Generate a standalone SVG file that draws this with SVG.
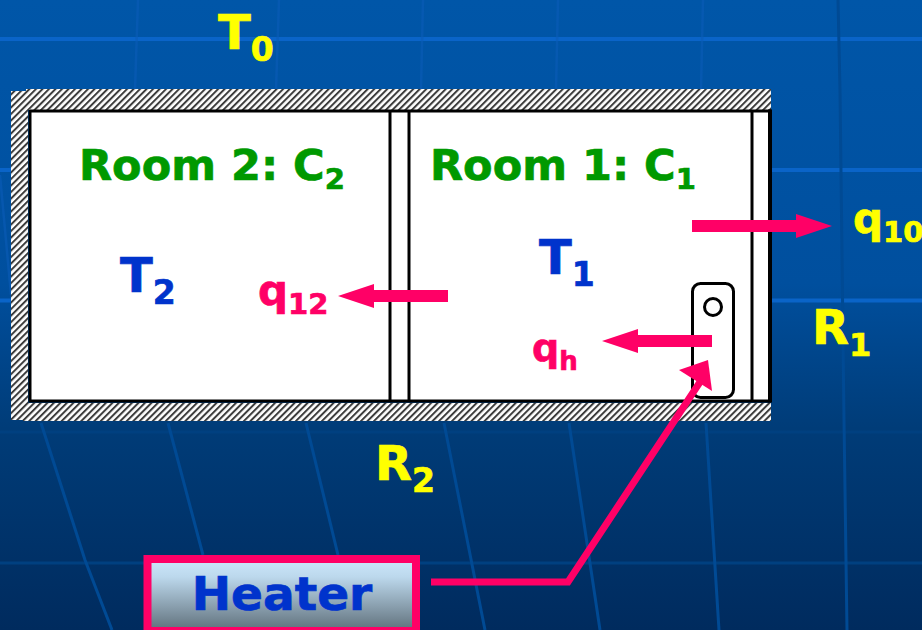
<svg xmlns="http://www.w3.org/2000/svg" width="922" height="630" viewBox="0 0 922 630">
<defs>
<linearGradient id="bg" x1="0" y1="0" x2="0" y2="1"><stop offset="0" stop-color="#0056a8"/><stop offset="0.45" stop-color="#004f9e"/><stop offset="0.68" stop-color="#003c78"/><stop offset="1" stop-color="#002b5e"/></linearGradient>
<linearGradient id="btn" x1="0" y1="0" x2="0" y2="1"><stop offset="0" stop-color="#cde8fc"/><stop offset="0.25" stop-color="#bcd8ec"/><stop offset="1" stop-color="#5f6f7a"/></linearGradient>
<pattern id="hatch" width="4.6" height="4.6" patternUnits="userSpaceOnUse" patternTransform="rotate(45)"><rect width="4.6" height="4.6" fill="#fff"/><rect width="2" height="4.6" fill="#3c3c3c"/></pattern>
<marker id="ah" markerUnits="userSpaceOnUse" markerWidth="36" markerHeight="28" refX="0" refY="14" orient="auto"><path d="M0 2L36 14L0 26Z" fill="#ff0066"/></marker>
</defs>
<style>
text{font-family:"DejaVu Sans","Verdana",sans-serif;font-weight:700;stroke-width:.7px}
.y{fill:#ffff00;stroke:#ffff00}.g{fill:#009900;stroke:#009900}.b{fill:#0033cc;stroke:#0033cc}.p{fill:#ff0066;stroke:#ff0066}
.wall{fill:none;stroke:#000;stroke-width:3}
.ar{stroke:#ff0066;stroke-width:12;fill:none}
.gl{stroke:#0a64c8;stroke-width:4;fill:none}
.gf{stroke:#0a5cb8;stroke-width:2.500;fill:none;opacity:.6}
.gd{stroke:#004a94;stroke-width:3;fill:none}
.gh{stroke:#004080;stroke-width:3;fill:none}
</style>
<rect width="922" height="630" fill="url(#bg)"/>
<g id="grid">
<path class="gl" d="M0 39H922M0 170H12M770 170H922M0 300.500H12M770 300.500H922"/>
<path class="gf" d="M138 0L135 90M279 0L276 90M423 0L421 90M558 0L556 90M703 0L701 90M0 175L11 295"/>
<path class="gh" d="M0 432H922M0 563H922"/>
<path class="gd" d="M41 423L85 560L112 630M168 423L203 555M306 423L338 555M444 423L485 630M569 423L600 630M706 423L719 630M838 0L840 90L844 420L847 630"/>
</g>
<g id="walls">
<rect x="11" y="91" width="17" height="329" fill="url(#hatch)"/>
<rect x="26" y="89" width="745" height="21" fill="url(#hatch)"/>
<rect x="23" y="403" width="748" height="18" fill="url(#hatch)"/>
</g>
<g id="rooms">
<rect x="30" y="111" width="740" height="290" fill="#fff"/>
<path class="wall" d="M30 111H771M30 110V401M28.500 401H771M390 111V401M409 111V401M752 111V401"/>
<path d="M770 109.500V402.500" fill="none" stroke="#000" stroke-width="4"/>
</g>
<g id="room-2"><text class="g" x="79" y="180" font-size="43">Room 2: C<tspan font-size="29" dy="9">2</tspan></text></g>
<g id="room-1"><text class="g" x="430" y="180" font-size="43">Room 1: C<tspan font-size="29" dy="9">1</tspan></text></g>
<g id="device">
<rect x="692.500" y="283.500" width="41" height="114" rx="8" fill="#fff" stroke="#000" stroke-width="3"/>
<circle cx="713" cy="307" r="8.500" fill="#fff" stroke="#000" stroke-width="3"/>
</g>
<g id="labels">
<text class="y" x="218" y="49" font-size="48">T<tspan font-size="33" dy="12">0</tspan></text>
<text class="b" x="120" y="292" font-size="48">T<tspan font-size="33" dy="12">2</tspan></text>
<text class="b" x="539" y="274" font-size="48">T<tspan font-size="33" dy="12">1</tspan></text>
<text class="y" x="375" y="480" font-size="48">R<tspan font-size="33" dy="12">2</tspan></text>
<text class="y" x="812" y="344" font-size="48">R<tspan font-size="32" dy="12">1</tspan></text>
<text class="p" x="258" y="305" font-size="42">q<tspan font-size="29" dy="9">12</tspan></text>
<text class="p" x="532" y="361" font-size="38">q<tspan font-size="26" dy="9">h</tspan></text>
<text class="y" x="853" y="233" font-size="42">q<tspan font-size="29" dy="9">10</tspan></text>
</g>
<g id="connectors">
<line class="ar" x1="448" y1="296" x2="374" y2="296" marker-end="url(#ah)"/>
<line class="ar" x1="712" y1="341" x2="638" y2="341" marker-end="url(#ah)"/>
<line class="ar" x1="692" y1="226" x2="796" y2="226" marker-end="url(#ah)"/>
<path d="M431 582H568L700 382" fill="none" stroke="#ff0066" stroke-width="7"/>
<path d="M679 370L708 360L712 391Z" fill="#ff0066"/>
</g>
<g id="heater">
<rect x="147.500" y="559" width="268.500" height="72" fill="url(#btn)" stroke="#ff0066" stroke-width="8"/>
<text class="b" x="282" y="610" font-size="47" text-anchor="middle">Heater</text>
</g>
</svg>
